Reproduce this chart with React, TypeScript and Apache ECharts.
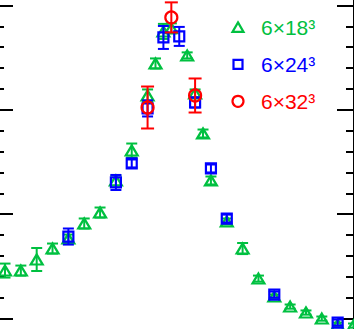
import React, { useEffect, useRef } from "react";
import * as echarts from "echarts";

// x: step index of the coupling scan, y: observable (arbitrary units), err: half error bar
const G_X = [0, 1, 2, 3, 4, 5, 6, 7, 8, 9, 9.5, 10, 10.5, 11.5, 12, 12.5, 13, 14, 15, 16, 17, 18, 19, 20, 21, 22];
const G_Y = [0.46, 0.46, 0.566, 0.671, 0.767, 0.911, 1.016, 1.323, 1.61, 2.137, 2.444, 2.751, 2.78, 2.521, 2.157, 1.773, 1.323, 0.93, 0.671, 0.383, 0.211, 0.115, 0.058, 0.0, -0.058, -0.067];
const G_E = [0.067, 0.048, 0.11, 0.048, 0.038, 0.048, 0.048, 0.048, 0.067, 0.058, 0.048, 0.072, 0.048, 0.029, 0.038, 0.038, 0.038, 0.029, 0.053, 0.029, 0.02, 0.02, 0.02, 0.02, 0.02, 0.02];

const B_X = [4, 7, 8, 9, 10, 11, 12, 13, 14, 17, 21];
const B_Y = [0.786, 1.304, 1.486, 2.013, 2.693, 2.703, 2.07, 1.438, 0.958, 0.23, -0.038];
const B_E = [0.077, 0.072, 0.038, 0.077, 0.11, 0.091, 0.048, 0.038, 0.038, 0.029, 0.029];

const R_X = [9, 10.5, 12];
const R_Y = [2.022, 2.885, 2.137];
const R_E = [0.201, 0.144, 0.163];

const LABELS = ["6×18³", "6×24³", "6×32³"];
const COLORS = ["#00c040", "#0000ff", "#ff0000"];
const SYMBOLS = ["triangle", "rect", "circle"];
const SIZES: any[] = [[12, 10], 10, 12];

// The plotted frame extends beyond the visible window
const OFF_X = -4;
const OFF_Y = -99.33;
const FRAME_W = 357.5;
const FRAME_H = 521.67;

export default function App() {
  const ref = useRef<HTMLDivElement>(null);
  useEffect(() => {
    document.body.style.margin = "0";
    const chart = echarts.init(ref.current!, undefined, { renderer: "svg" });
    const sets = [
      [G_X, G_Y, G_E],
      [B_X, B_Y, B_E],
      [R_X, R_Y, R_E],
    ];
    const series: any[] = [];
    sets.forEach((s, i) => {
      const [xs, ys, es] = s;
      const data = xs.map((x, j) => [x, ys[j], es[j]]);
      const color = COLORS[i];
      const cap = i === 2 ? 6.5 : 5.5;
      series.push({
        type: "custom",
        data,
        z: 2 + i * 2,
        renderItem: (params: any, api: any) => {
          const x = api.value(0);
          const y = api.value(1);
          const e = api.value(2);
          const p = api.coord([x, y]);
          const hi = api.coord([x, y + e]);
          const lo = api.coord([x, y - e]);
          const st = { stroke: color, lineWidth: 2 };
          return {
            type: "group",
            children: [
              { type: "line", shape: { x1: p[0], y1: hi[1], x2: p[0], y2: lo[1] }, style: st },
              { type: "line", shape: { x1: p[0] - cap, y1: hi[1], x2: p[0] + cap, y2: hi[1] }, style: st },
              { type: "line", shape: { x1: p[0] - cap, y1: lo[1], x2: p[0] + cap, y2: lo[1] }, style: st },
            ],
          };
        },
      });
      series.push({
        type: "scatter",
        data: data.map((d) => [d[0], d[1]]),
        symbol: SYMBOLS[i],
        symbolSize: SIZES[i],
        z: 3 + i * 2,
        itemStyle: { color: "rgba(0,0,0,0)", borderColor: color, borderWidth: 2.2, opacity: 1 },
      });
    });

    const yBase = (pos: string) => ({
      type: "value",
      position: pos,
      min: -1,
      max: 4,
      interval: 1,
      axisLine: { show: true, onZero: false, lineStyle: { color: "#000", width: 2 } },
      axisTick: { show: true, inside: true, length: 17, lineStyle: { color: "#000", width: 2 } },
      minorTick: { show: true, splitNumber: 5, length: 8, lineStyle: { color: "#000", width: 2 } },
      axisLabel: { show: false },
      splitLine: { show: false },
      minorSplitLine: { show: false },
    });

    const legendY = [27, 64, 101];
    const graphic: any[] = [];
    LABELS.forEach((t, i) => {
      const c = COLORS[i];
      const y = legendY[i] - OFF_Y;
      const x0 = 238 - OFF_X;
      const st = { fill: "none", stroke: c, lineWidth: 2.2 };
      if (i === 0) {
        graphic.push({ type: "polygon", shape: { points: [[x0, y - 5], [x0 + 5.5, y + 4.5], [x0 - 5.5, y + 4.5]] }, style: st });
      } else if (i === 1) {
        graphic.push({ type: "rect", shape: { x: x0 - 4.5, y: y - 4.5, width: 9, height: 9 }, style: st });
      } else {
        graphic.push({ type: "circle", shape: { cx: x0, cy: y, r: 5.5 }, style: st });
      }
      graphic.push({
        type: "text",
        x: 261 - OFF_X,
        y,
        style: {
          text: t,
          fill: c,
          font: "21px 'Liberation Sans', Arial, sans-serif",
          verticalAlign: "middle",
        },
      });
    });

    chart.setOption({
      animation: false,
      backgroundColor: "#fff",
      grid: { left: 0, right: 0, top: 0, bottom: 0 },
      xAxis: { type: "value", min: -0.569, max: 22.0319, show: false },
      yAxis: [yBase("left"), yBase("right")],
      series,
      graphic,
    });
    return () => chart.dispose();
  }, []);
  return (
    <div style={{ position: "relative", width: 355, height: 329, overflow: "hidden", background: "#fff" }}>
      <div
        ref={ref}
        style={{ position: "absolute", left: OFF_X, top: OFF_Y, width: FRAME_W, height: FRAME_H }}
      />
    </div>
  );
}
